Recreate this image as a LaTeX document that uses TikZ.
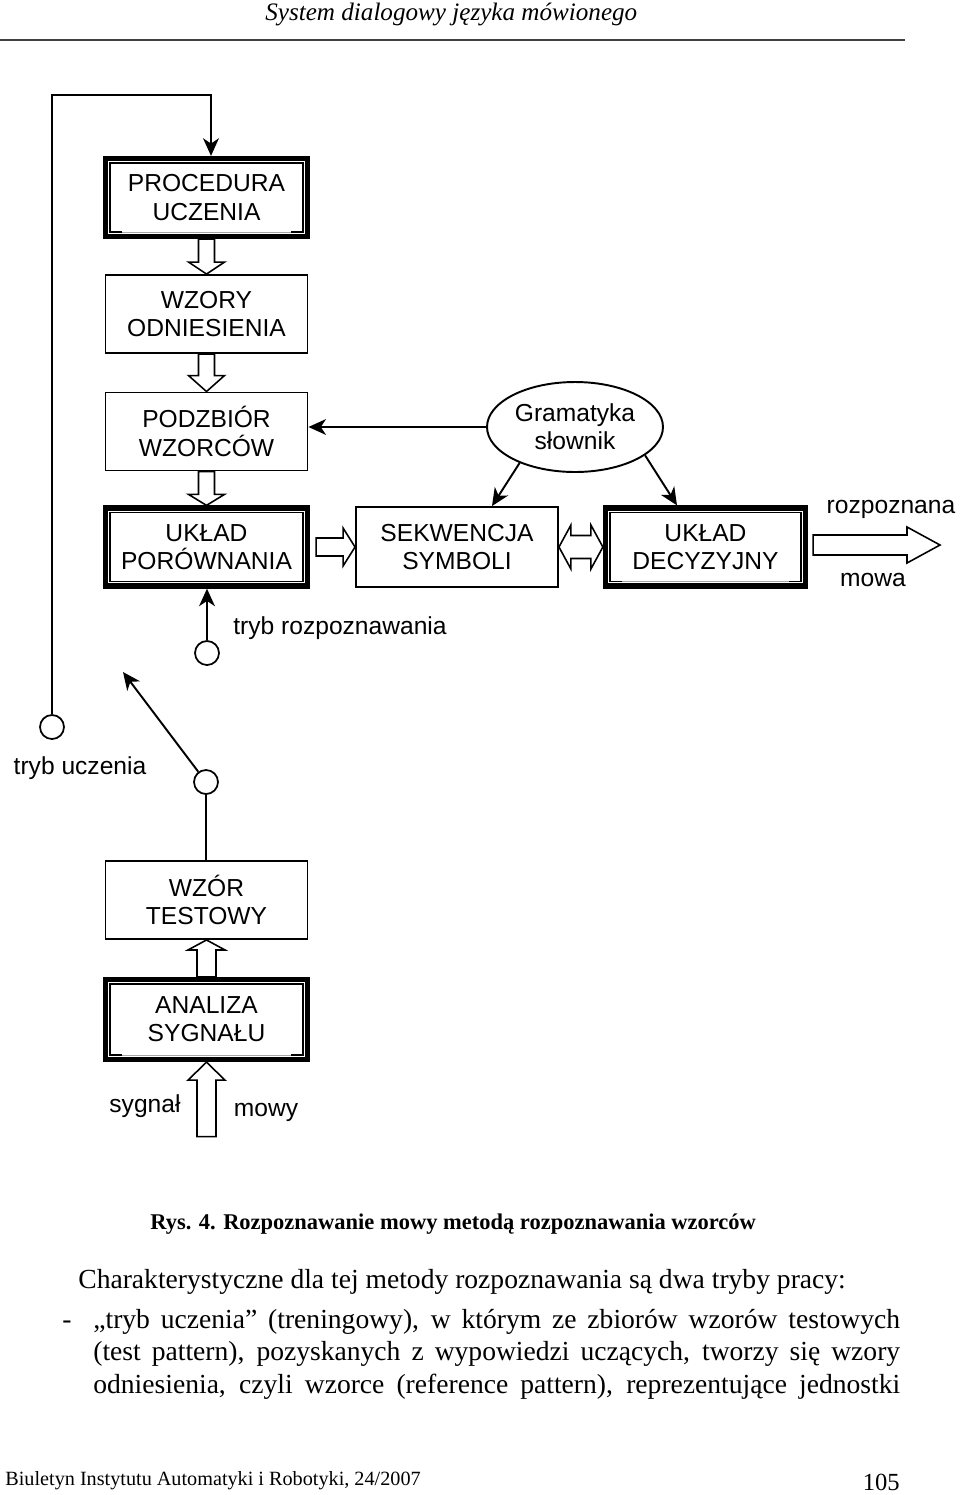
\documentclass[tikz,border=0pt]{standalone}
\usepackage{fontspec}
\setmainfont{Liberation Serif}
\newfontfamily\arialfont{Liberation Sans}
\usetikzlibrary{calc,arrows.meta,shapes.geometric}

% hollow block arrow: start, tip, shaft half width, head half width, head length
\newcommand{\blockarrow}[5]{%
  \coordinate (hb) at ($(#2)!#5!(#1)$);
  \draw[blockline] ($(#1)!#3!90:(#2)$) -- ($(hb)!#3!-90:(#1)$) -- ($(hb)!#4!-90:(#1)$)
    -- (#2) -- ($(hb)!#4!90:(#1)$) -- ($(hb)!#3!90:(#1)$) -- ($(#1)!#3!-90:(#2)$) -- cycle;}
% hollow double block arrow: end a, end b, shaft half width, head half width, head length
\newcommand{\dblarrow}[5]{%
  \coordinate (ha) at ($(#1)!#5!(#2)$);
  \coordinate (hb) at ($(#2)!#5!(#1)$);
  \draw[blockline] (#1) -- ($(ha)!#4!90:(#2)$) -- ($(ha)!#3!90:(#2)$) -- ($(hb)!#3!-90:(#1)$)
    -- ($(hb)!#4!-90:(#1)$) -- (#2) -- ($(hb)!#4!90:(#1)$) -- ($(hb)!#3!90:(#1)$)
    -- ($(ha)!#3!-90:(#2)$) -- ($(ha)!#4!-90:(#2)$) -- cycle;}
% inner frame of a thick box
\newcommand{\innerframe}[1]{%
  \coordinate (isw) at ([shift={(0.14cm,0.14cm)}]#1.south west);
  \coordinate (ine) at ([shift={(-0.14cm,-0.14cm)}]#1.north east);
  \draw[black!35, line width=0.6pt] (isw) -- (isw -| ine);
  \draw[inframe] ([xshift=0.25cm]isw) -- (isw) |- (ine) -- (isw -| ine) -- ([xshift=-0.25cm]isw -| ine);}

\begin{document}
\begin{tikzpicture}[x=0.02cm, y=-0.02cm,
    font=\arialfont\fontsize{14pt}{16pt}\selectfont,
    box/.style={draw, line width=1.1pt, minimum width=4.04cm, minimum height=1.56cm, align=center},
    thickbox/.style={box, line width=3pt},
    gram/.style={ellipse, draw, line width=1.1pt, minimum width=3.52cm, minimum height=1.8cm, align=center, inner sep=0pt},
    contact/.style={circle, draw, line width=1pt, minimum size=0.48cm, inner sep=0pt},
    conn/.style={line width=1.1pt},
    blockline/.style={draw, fill=white, line width=0.9pt, line join=miter},
    inframe/.style={line width=0.8pt},
    >={Stealth[length=10pt,width=9pt,inset=3pt]}]
	\useasboundingbox (0,0) rectangle (960,1495);
	
	% page header
	\node[anchor=base west, inner sep=0pt, font=\itshape\fontsize{14.3pt}{17pt}\selectfont] (header) at (265,20) {System dialogowy języka mówionego};
	\draw[line width=1.2pt, black!75] (0,40) -- (905,40);
	
	% left column
	\node[thickbox] (proc) at (206.5,197.5) {PROCEDURA\\UCZENIA};
	\node[box] (wzory) at (206.5,314) {WZORY\\ODNIESIENIA};
	\node[box] (podz) at (206.5,431.5) {PODZBIÓR\\WZORCÓW};
	\node[thickbox] (porow) at (206.5,547) {UKŁAD\\PORÓWNANIA};
	\node[box] (wzort) at (206.5,900) {WZÓR\\TESTOWY};
	\node[thickbox, minimum height=1.6cm] (anal) at (206.5,1019.5) {ANALIZA\\SYGNAŁU};
	\innerframe{proc}
	\innerframe{porow}
	\draw[inframe] (isw) -- (isw -| ine);
	\innerframe{anal}
	
	% recognition row
	\node[box, minimum height=1.6cm] (sekw) at (457,547) {SEKWENCJA\\SYMBOLI};
	\node[thickbox, minimum width=4cm] (decyz) at (705.5,547) {UKŁAD\\DECYZYJNY};
	\innerframe{decyz}
	\node[gram] (gramat) at (575,427) {Gramatyka\\słownik};
	
	% block arrows
	\blockarrow{proc.south}{wzory.north}{0.16cm}{0.36cm}{0.24cm}
	\blockarrow{wzory.south}{podz.north}{0.16cm}{0.36cm}{0.32cm}
	\blockarrow{podz.south}{porow.north}{0.16cm}{0.36cm}{0.22cm}
	\coordinate (porout) at ([xshift=0.12cm]porow.east);
	\blockarrow{porout}{sekw.west}{0.18cm}{0.38cm}{0.24cm}
	\dblarrow{sekw.east}{decyz.west}{0.23cm}{0.44cm}{0.24cm}
	\coordinate (wynik) at (940,545);
	\coordinate (decout) at ([xshift=0.1cm]wynik -| decyz.east);
	\blockarrow{decout}{wynik}{0.2cm}{0.36cm}{0.66cm}
	\blockarrow{anal.north}{wzort.south}{0.19cm}{0.37cm}{0.2cm}
	\coordinate (sygn) at ([yshift=-1.49cm]anal.south);
	\blockarrow{sygn}{anal.south}{0.19cm}{0.37cm}{0.36cm}
	
	% grammar links
	\draw[conn,->] (gramat.west) -- (gramat.west -| podz.east);
	\draw[conn,->] (gramat.213) -- ([xshift=0.7cm]sekw.north);
	\draw[conn,->] (gramat.338) -- ([xshift=-0.57cm]decyz.north);
	
	% mode switch
	\node[contact] (kroz) at (207,653) {};
	\node[contact] (kucz) at (52,727) {};
	\node[contact] (kprz) at (206,782) {};
	\coordinate (petla) at (211,95);
	\coordinate (dzwig) at (123,672);
	\draw[conn,->] (kroz) -- (kroz |- porow.south);
	\draw[conn,->] (kucz) |- (petla) -- (petla |- proc.north);
	\draw[conn,->] (kprz) -- (dzwig);
	\draw[conn] (kprz) -- (kprz |- wzort.north);
	
	% labels
	\node[anchor=base west, inner sep=0pt] (lroz) at (233,634) {tryb rozpoznawania};
	\node[anchor=base, inner sep=0pt] (lucz) at (80,774) {tryb uczenia};
	\node[anchor=base, inner sep=0pt] (lwyn1) at (891,513) {rozpoznana};
	\node[anchor=base, inner sep=0pt] (lwyn2) at (873,586) {mowa};
	\node[anchor=base, inner sep=0pt] (lsyg1) at (145,1112) {sygnał};
	\node[anchor=base, inner sep=0pt] (lsyg2) at (266,1116) {mowy};
	
	% caption and text
	\node[anchor=base west, inner sep=0pt, font=\bfseries\fontsize{12.8pt}{15pt}\selectfont] (podpis) at (150,1229) {Rys. 4. Rozpoznawanie mowy metodą rozpoznawania wzorców};
	\begin{scope}[every node/.style={anchor=base west, inner sep=0pt, font=\fontsize{15.7pt}{18pt}\selectfont}]
		\node (akap1) at (78,1288) {Charakterystyczne dla tej metody rozpoznawania są dwa tryby pracy:};
		\node (myslnik) at (62,1328) {-};
		\node (akap2) at (93,1328) {\makebox[16.14cm][s]{„tryb uczenia” (treningowy), w którym ze zbiorów wzorów testowych}};
		\node (akap3) at (93,1360.5) {\makebox[16.14cm][s]{(test pattern), pozyskanych z wypowiedzi uczących, tworzy się wzory}};
		\node (akap4) at (93,1393) {\makebox[16.14cm][s]{odniesienia, czyli wzorce (reference pattern), reprezentujące jednostki}};
	\end{scope}
	\node[anchor=base west, inner sep=0pt, font=\fontsize{11.5pt}{14pt}\selectfont] (stopka) at (5,1485) {Biuletyn Instytutu Automatyki i Robotyki, 24/2007};
	\node[anchor=base east, inner sep=0pt, font=\fontsize{14pt}{17pt}\selectfont] (strona) at (900,1490) {105};
\end{tikzpicture}
\end{document}
